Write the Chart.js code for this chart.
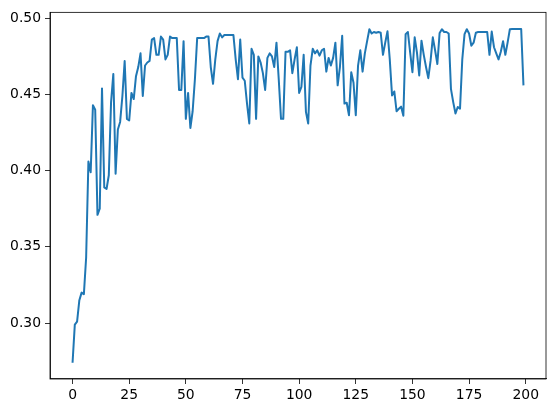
<!DOCTYPE html>
<html>
<head>
<meta charset="utf-8">
<script src="https://cdn.jsdelivr.net/npm/chart.js@4.4.1/dist/chart.umd.min.js"></script>
<style>
  html, body { margin: 0; padding: 0; background: #fff; }
  canvas { display: block; }
</style>
</head>
<body>
<canvas id="chart" width="556" height="413"></canvas>
<script>
// Series values, one per step (x = 0..199)
const seriesValues = [
    0.274, 0.299, 0.301, 0.315, 0.320, 0.319, 0.343, 0.406, 0.399, 0.443,
    0.440, 0.371, 0.375, 0.454, 0.389, 0.388, 0.397, 0.445, 0.4635, 0.398,
    0.427, 0.432, 0.449, 0.472, 0.434, 0.433, 0.451, 0.447, 0.462, 0.468,
    0.477, 0.449, 0.469, 0.471, 0.472, 0.486, 0.487, 0.476, 0.476, 0.488,
    0.486, 0.473, 0.476, 0.488, 0.487, 0.487, 0.487, 0.453, 0.453, 0.485,
    0.434, 0.451, 0.428, 0.439, 0.460, 0.487, 0.487, 0.487, 0.487, 0.488,
    0.488, 0.468, 0.457, 0.473, 0.485, 0.490, 0.4875, 0.489, 0.489, 0.489,
    0.489, 0.489, 0.473, 0.460, 0.486, 0.461, 0.459, 0.444, 0.431, 0.480,
    0.476, 0.434, 0.475, 0.471, 0.464, 0.453, 0.474, 0.477, 0.475, 0.468,
    0.484, 0.460, 0.434, 0.434, 0.478, 0.478, 0.479, 0.464, 0.473, 0.481,
    0.451, 0.455, 0.476, 0.4386, 0.431, 0.469, 0.480, 0.477, 0.479, 0.4755,
    0.479, 0.480, 0.465, 0.474, 0.469, 0.474, 0.484, 0.456, 0.468, 0.4885,
    0.444, 0.4446, 0.4364, 0.4646, 0.4577, 0.4364, 0.469, 0.479, 0.465, 0.477,
    0.485, 0.4928, 0.490, 0.491, 0.4905, 0.491, 0.4905, 0.476, 0.484, 0.4915,
    0.473, 0.4494, 0.452, 0.439, 0.4406, 0.442, 0.436, 0.4896, 0.491, 0.4775,
    0.4646, 0.4875, 0.4775, 0.4625, 0.4853, 0.476, 0.468, 0.4607, 0.472, 0.4875,
    0.479, 0.470, 0.4904, 0.4928, 0.491, 0.491, 0.490, 0.4537, 0.445, 0.4375,
    0.4418, 0.4407, 0.473, 0.4896, 0.4928, 0.490, 0.482, 0.484, 0.4905, 0.491,
    0.491, 0.491, 0.491, 0.491, 0.476, 0.4913, 0.481, 0.477, 0.473, 0.478,
    0.485, 0.476, 0.484, 0.4928, 0.493, 0.493, 0.493, 0.493, 0.493, 0.456
];

// Tick labels
const xTicks = [0, 25, 50, 75, 100, 125, 150, 175, 200];
const yTicks = [0.30, 0.35, 0.40, 0.45, 0.50];

const points = seriesValues.map((v, i) => ({ x: i, y: v }));

// matplotlib-like axes frame (top and right spines)
const framePlugin = {
    id: 'frame',
    afterDraw(chart) {
        const { ctx, chartArea: a } = chart;
        ctx.save();
        ctx.strokeStyle = '#000';
        ctx.lineWidth = 0.8;
        ctx.strokeRect(a.left, a.top, a.right - a.left, a.bottom - a.top);
        ctx.restore();
    }
};

const tickFont = { family: 'DejaVu Sans', size: 13.9 };

new Chart(document.getElementById('chart').getContext('2d'), {
    type: 'line',
    data: {
        datasets: [{
            data: points,
            borderColor: '#1f77b4',
            borderWidth: 2,
            borderJoinStyle: 'round',
            pointRadius: 0,
            tension: 0,
            fill: false
        }]
    },
    options: {
        responsive: false,
        animation: false,
        devicePixelRatio: 1,
        layout: { padding: { top: 11, right: 10, left: 0, bottom: 0 } },
        plugins: {
            legend: { display: false },
            tooltip: { enabled: false }
        },
        scales: {
            x: {
                type: 'linear',
                min: -9.95,
                max: 208.95,
                afterBuildTicks: s => { s.ticks = xTicks.map(v => ({ value: v })); },
                afterFit: s => { s.height = 34; },
                grid: { drawOnChartArea: false, tickLength: 5, tickWidth: 0.8, tickColor: '#000' },
                border: { display: true, color: '#000', width: 0.8 },
                ticks: { color: '#000', font: tickFont, padding: 3, maxRotation: 0, autoSkip: false }
            },
            y: {
                min: 0.2633,
                max: 0.5039,
                afterBuildTicks: s => { s.ticks = yTicks.map(v => ({ value: v })); },
                afterFit: s => { s.width = 50; },
                grid: { drawOnChartArea: false, tickLength: 5, tickWidth: 0.8, tickColor: '#000' },
                border: { display: true, color: '#000', width: 0.8 },
                ticks: {
                    color: '#000', font: tickFont, padding: 4, autoSkip: false,
                    callback: v => v.toFixed(2)
                }
            }
        }
    },
    plugins: [framePlugin]
});
</script>
</body>
</html>
